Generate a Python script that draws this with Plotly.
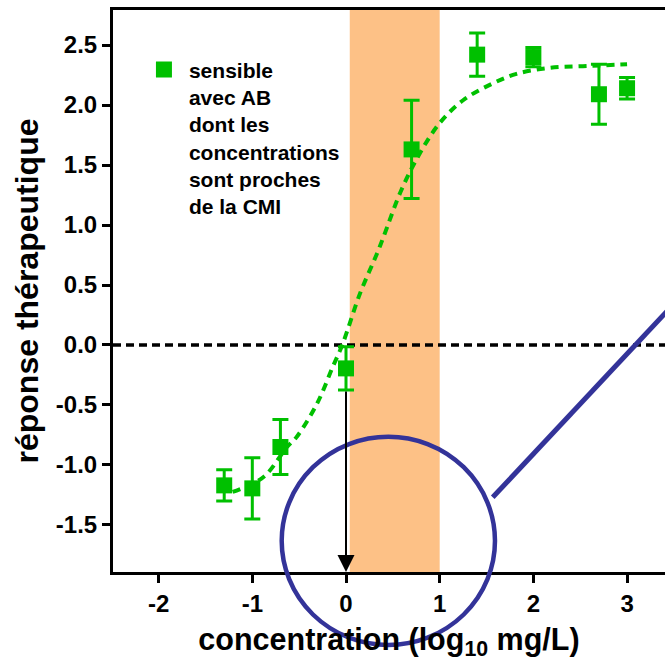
import plotly.graph_objects as go

# Measured response vs. log10 concentration
conc_log = [-1.30, -1.00, -0.70, 0.00, 0.70, 1.40, 2.00, 2.70, 3.00]
response = [-1.17, -1.195, -0.85, -0.195, 1.63, 2.42, 2.40, 2.09, 2.14]
response_err = [0.13, 0.255, 0.23, 0.18, 0.41, 0.18, 0.08, 0.25, 0.09]

# Fitted dose-response curve (read points along the sigmoid)
fit_x = [-1.21, -0.88, -0.63, -0.53, -0.31, -0.14, -0.04, 0.15, 0.33, 0.40,
         0.59, 0.79, 1.00, 1.25, 1.54, 1.82, 2.18, 2.57, 3.00]
fit_y = [-1.225, -1.10, -0.85, -0.77, -0.49, -0.18, 0.0, 0.43, 0.76, 0.90,
         1.29, 1.60, 1.85, 2.04, 2.17, 2.26, 2.31, 2.325, 2.34]

# Shaded concentration window near the MIC
band_x = [0.04, 1.0]

x_ticks = [-2, -1, 0, 1, 2, 3]
y_ticks = [-1.5, -1.0, -0.5, 0.0, 0.5, 1.0, 1.5, 2.0, 2.5]

legend_label = "sensible<br>avec AB<br>dont les<br>concentrations<br>sont proches<br>de la CMI"

GREEN = "#00C000"
ORANGE = "#FDC186"
BLUE = "#333399"
FONT = "Liberation Sans"

X_RANGE = [-2.487, 3.405]
Y_RANGE = [-1.892, 2.792]

fig = go.Figure()

fig.add_trace(go.Scatter(
    x=fit_x, y=fit_y, mode="lines",
    line=dict(color=GREEN, width=4, dash="8px,6px", shape="spline", smoothing=1.0),
    showlegend=False, hoverinfo="skip",
))

fig.add_trace(go.Scatter(
    x=conc_log, y=response, mode="markers", name=legend_label,
    marker=dict(symbol="square", size=16, color=GREEN, line=dict(width=0)),
    error_y=dict(type="data", array=response_err, visible=True,
                 color=GREEN, thickness=3, width=8),
))

# Orange band and dashed zero line
fig.add_shape(type="rect", xref="x", yref="y", x0=band_x[0], x1=band_x[1],
              y0=Y_RANGE[0], y1=Y_RANGE[1], fillcolor=ORANGE,
              line=dict(width=0), layer="below")
fig.add_shape(type="line", xref="x", yref="y", x0=X_RANGE[0], x1=X_RANGE[1],
              y0=0, y1=0, line=dict(color="black", width=3.5, dash="8px,5px"),
              layer="below")

# Arrow from the lowest response bound at zero concentration down to the axis
i0 = conc_log.index(0.00)
fig.add_annotation(
    x=conc_log[i0], y=Y_RANGE[0], ax=conc_log[i0], ay=response[i0] - response_err[i0],
    xref="x", yref="y", axref="x", ayref="y", text="",
    showarrow=True, arrowhead=2, arrowsize=1.7, arrowwidth=2, arrowcolor="black",
)

# Highlight circle and pointer line
fig.add_shape(type="circle", xref="paper", yref="paper",
              x0=0.3056, x1=0.692, y0=-0.1299, y1=0.2407,
              line=dict(color=BLUE, width=4.5), layer="above")
fig.add_shape(type="line", xref="paper", yref="paper",
              x0=0.6879, y0=0.1329, x1=1.0634, y1=0.5268,
              line=dict(color=BLUE, width=5), layer="above")

axis_common = dict(
    showgrid=False, zeroline=False, showline=True, linecolor="black", linewidth=3,
    ticks="outside", ticklen=8, tickwidth=3, tickcolor="black",
    tickfont=dict(family=FONT, size=24, color="black", weight="bold"),
)

fig.update_xaxes(
    range=X_RANGE, tickvals=x_ticks, ticktext=[str(v) for v in x_ticks],
    mirror=True,
    title=dict(text="concentration (log<sub>10</sub> mg/L)",
               font=dict(family=FONT, size=30.5, color="black", weight="bold"),
               standoff=14),
    **axis_common,
)
fig.update_yaxes(
    range=Y_RANGE, tickvals=y_ticks, ticktext=[f"{v:.1f}" for v in y_ticks],
    title=dict(text="réponse thérapeutique",
               font=dict(family=FONT, size=32, color="black", weight="bold"),
               standoff=8),
    **axis_common,
)

fig.update_layout(
    width=665, height=661,
    margin=dict(l=113, r=0, t=10, b=89),
    paper_bgcolor="white", plot_bgcolor="white",
    showlegend=True,
    legend=dict(x=0.047, y=0.93, xanchor="left", yanchor="top",
                bgcolor="rgba(0,0,0,0)", valign="top", itemwidth=40,
                font=dict(family=FONT, size=21, color="black", weight="bold")),
)

fig.write_html("out.html")
